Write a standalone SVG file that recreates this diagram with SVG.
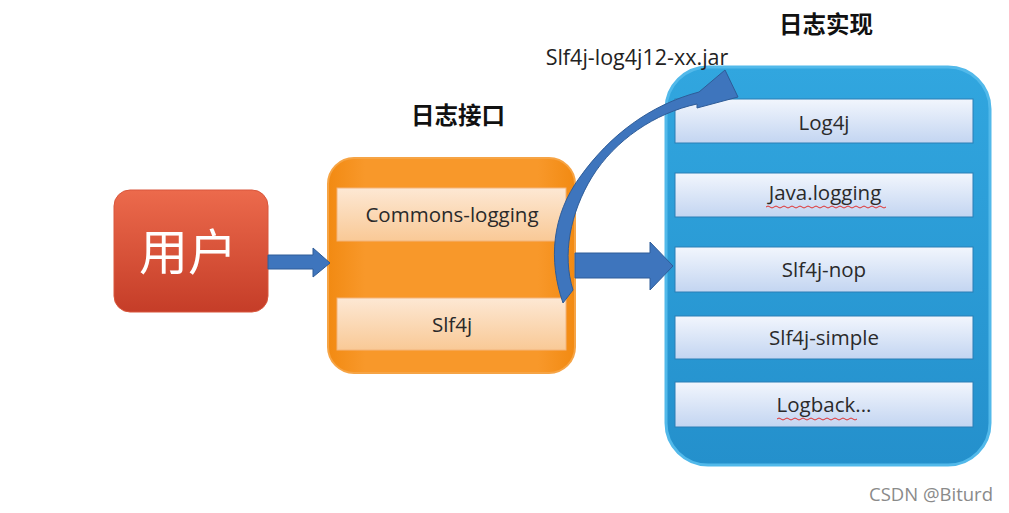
<svg xmlns="http://www.w3.org/2000/svg" width="1009" height="513" viewBox="0 0 1009 513">
<style>
.lbl{font-family:"Open Sans","Noto Sans","Liberation Sans",sans-serif;font-size:20.5px;fill:#2a2a2a;text-anchor:middle}
.ttl{font-family:"Noto Sans CJK SC","Noto Sans",sans-serif;font-size:23.5px;font-weight:bold;fill:#111;text-anchor:middle}
.obar{fill:url(#gOrangeBar);stroke:#f3b47a;stroke-width:1}
.bbar{fill:url(#gBlueBar);stroke:#2a7fb6;stroke-width:1}
.arr{fill:#3e75bd;stroke:#2e5c98;stroke-width:1}
.squig{fill:none;stroke:#e03030;stroke-width:1}
</style>
<defs>
<linearGradient id="gRed" x1="0" y1="0" x2="0" y2="1">
<stop offset="0" stop-color="#ec6a4c"/><stop offset="1" stop-color="#c53d28"/>
</linearGradient>
<linearGradient id="gOrange" x1="0" y1="0" x2="1" y2="0">
<stop offset="0" stop-color="#f28a12"/><stop offset="0.15" stop-color="#f8982a"/><stop offset="0.85" stop-color="#f8982a"/><stop offset="1" stop-color="#f28a12"/>
</linearGradient>
<linearGradient id="gOrangeBar" x1="0" y1="0" x2="0" y2="1">
<stop offset="0" stop-color="#fde8d4"/><stop offset="1" stop-color="#f9c996"/>
</linearGradient>
<linearGradient id="gBlue" x1="0" y1="0" x2="0" y2="1">
<stop offset="0" stop-color="#31a6df"/><stop offset="1" stop-color="#2490cc"/>
</linearGradient>
<linearGradient id="gBlueBar" x1="0" y1="0" x2="0" y2="1">
<stop offset="0" stop-color="#f2f6fd"/><stop offset="1" stop-color="#c3d5f1"/>
</linearGradient>
</defs>
<rect width="1009" height="513" fill="#ffffff"/>

<g id="title-interface"><text class="ttl" x="458" y="124">日志接口</text></g>
<g id="title-impl"><text class="ttl" x="826" y="33">日志实现</text></g>

<g id="user">
<rect x="114" y="190" width="154" height="122" rx="16" fill="url(#gRed)" stroke="#d9573c" stroke-width="1"/>
<text x="188" y="270" font-family="Noto Sans CJK SC,sans-serif" font-size="49" fill="#ffffff" text-anchor="middle">用户</text>
</g>

<g id="interface">
<rect x="328" y="158" width="247" height="215" rx="26" fill="url(#gOrange)" stroke="#f6a445" stroke-width="2"/>
<g id="commons-logging">
<rect class="obar" x="337" y="188" width="229" height="53"/>
<text class="lbl" x="452" y="222">Commons-logging</text>
</g>
<g id="slf4j">
<rect class="obar" x="337" y="298" width="229" height="52"/>
<text class="lbl" x="452" y="332">Slf4j</text>
</g>
</g>

<g id="impl">
<rect x="666" y="67" width="324" height="398" rx="42" fill="url(#gBlue)" stroke="#52b9ea" stroke-width="3"/>
<g id="log4j"><rect class="bbar" x="675" y="99" width="298" height="44"/><text class="lbl" x="824" y="130">Log4j</text></g>
<g id="java-logging"><rect class="bbar" x="675" y="173" width="298" height="44"/><text class="lbl" x="825" y="200">Java.logging</text>
<path class="squig" d="M766,207 q2,-2 4,0 t4,0 t4,0 t4,0 t4,0 t4,0 t4,0 t4,0 t4,0 t4,0 t4,0 t4,0 t4,0 t4,0 t4,0 t4,0 t4,0 t4,0 t4,0 t4,0 t4,0 t4,0 t4,0 t4,0 t4,0 t4,0 t4,0 t4,0 t4,0 t4,0"/></g>
<g id="slf4j-nop"><rect class="bbar" x="675" y="247" width="298" height="45"/><text class="lbl" x="824" y="277">Slf4j-nop</text></g>
<g id="slf4j-simple"><rect class="bbar" x="675" y="316" width="298" height="43"/><text class="lbl" x="824" y="345">Slf4j-simple</text></g>
<g id="logback"><rect class="bbar" x="675" y="382" width="298" height="45"/><text class="lbl" x="824" y="412">Logback...</text>
<path class="squig" d="M777,419 q2,-2 4,0 t4,0 t4,0 t4,0 t4,0 t4,0 t4,0 t4,0 t4,0 t4,0 t4,0 t4,0 t4,0 t4,0 t4,0 t4,0 t4,0 t4,0 t4,0 t4,0"/></g>
</g>

<g id="connectors">
<path class="arr" d="M268,255 L313,255 L313,248 L330,263 L313,277 L313,269 L268,269 Z"/>
<path class="arr" d="M575,253 L650,253 L650,242 L673,266 L650,290 L650,278 L575,278 Z"/>
<path class="arr" d="M563,303 C548,260 552,215 580,177 C610,135 650,105 699,92 L725,70 L738,97 L697,108 L697,104 C655,113 615,140 592,177 C570,213 562,255 573,290 Z"/>
<text x="637" y="65" font-family="Open Sans,Noto Sans,sans-serif" font-size="21.5" fill="#222" text-anchor="middle">Slf4j-log4j12-xx.jar</text>
</g>

<g id="watermark"><text x="931" y="501" font-family="Open Sans,Noto Sans,sans-serif" font-size="18.5" fill="#8a8a8a" text-anchor="middle">CSDN @Biturd</text></g>
</svg>
